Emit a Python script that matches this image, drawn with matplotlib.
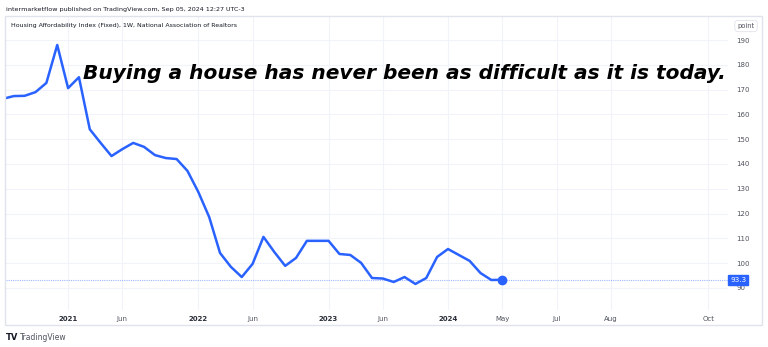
import numpy as np
import matplotlib.pyplot as plt
from matplotlib.patches import Rectangle

# Housing Affordability Index (Fixed), one value per weekly bar that has data
hai = [166.3, 167.4, 167.5, 169.0, 172.7, 188.0, 170.6, 175.0, 154.0, 148.5,
       143.2, 146.0, 148.5, 146.9, 143.6, 142.4, 142.0, 137.2, 128.7, 118.6,
       104.1, 98.5, 94.4, 99.7, 110.6, 104.5, 98.9, 102.1, 109.0, 109.0,
       109.0, 103.7, 103.3, 100.1, 94.0, 93.8, 92.4, 94.4, 91.6, 94.0,
       102.5, 105.7, 103.3, 100.9, 96.0, 93.2, 93.3]
last_value = 93.3

# time scale is bar based (TradingView style), so ticks sit on bar indices
tick_bars = [6, 11, 18, 23, 30, 35, 41, 46, 51, 56, 65]
tick_labels = ['2021', 'Jun', '2022', 'Jun', '2023', 'Jun', '2024', 'May', 'Jul', 'Aug', 'Oct']
year_ticks = ['2021', '2022', '2023', '2024']
price_ticks = [90, 100, 110, 120, 130, 140, 150, 160, 170, 180, 190]

W, H = 768, 347
blue = '#2962ff'
grid = '#f0f3fa'
textc = '#131722'

fig = plt.figure(figsize=(W / 100, H / 100), dpi=100)
fig.patch.set_facecolor('white')

def fx(px):
    return px / W

def fy(py):
    return 1 - py / H

# outer chart frame
fig.patches.append(Rectangle((fx(5), fy(325)), fx(757), (325 - 16) / H,
                             transform=fig.transFigure, fill=False,
                             edgecolor='#e0e3eb', linewidth=1.0))

ax = fig.add_axes([fx(6), fy(310), fx(722), (310 - 16) / H])
x = np.arange(len(hai))
ax.plot(x, hai, color=blue, linewidth=1.8, solid_joinstyle='round', zorder=3)
ax.plot(x[-1], hai[-1], 'o', color=blue, markersize=6, zorder=4)
ax.axhline(last_value, color=blue, linestyle=(0, (1, 1)), linewidth=0.8, alpha=0.45, zorder=2)

ax.set_xlim(0.28, 66.8)
ax.set_ylim(81.1, 199.7)
for s in ax.spines.values():
    s.set_visible(False)

ax.set_xticks(tick_bars)
ax.set_xticklabels(tick_labels)
for lab in ax.get_xticklabels():
    lab.set_fontsize(5)
    if lab.get_text() in year_ticks:
        lab.set_color('#2a2e39')
        lab.set_fontweight('bold')
    else:
        lab.set_color('#50535e')
ax.tick_params(axis='x', length=0, pad=4)

ax.yaxis.tick_right()
ax.set_yticks(price_ticks)
ax.tick_params(axis='y', length=0, pad=6, labelsize=5, labelcolor='#50535e')
ax.grid(True, color=grid, linewidth=0.8)
ax.set_axisbelow(True)

# last value badge on price scale
ax.text(1.003, last_value, f'{last_value}', transform=ax.get_yaxis_transform(),
        ha='left', va='center', fontsize=5.2, color='white', zorder=6, clip_on=False,
        bbox=dict(boxstyle='square,pad=0.25', facecolor=blue, edgecolor=blue))

# "point" unit box
fig.text(fx(746), fy(26), 'point', ha='center', va='center', fontsize=4.8, color='#50535e',
         bbox=dict(boxstyle='round,pad=0.4,rounding_size=0.5', facecolor='white', edgecolor='#e0e3eb', linewidth=0.6))

fig.text(fx(6), fy(9), 'intermarketflow published on TradingView.com, Sep 05, 2024 12:27 UTC-3',
         ha='left', va='center', fontsize=4.6, color='#131722')
fig.text(fx(11), fy(25), 'Housing Affordability Index (Fixed), 1W, National Association of Realtors',
         ha='left', va='center', fontsize=4.5, color='#131722')

fig.text(fx(83), fy(79), 'Buying a house has never been as difficult as it is today.',
         ha='left', va='baseline', fontsize=14.5, fontweight='bold', fontstyle='italic',
         family='DejaVu Sans', color='black')

fig.text(fx(6), fy(337), 'TV', ha='left', va='center', fontsize=6, fontweight='bold', color=textc)
fig.text(fx(20), fy(337), 'TradingView', ha='left', va='center', fontsize=5.5, color='#50535e')

fig.savefig('out.png', dpi=100)
